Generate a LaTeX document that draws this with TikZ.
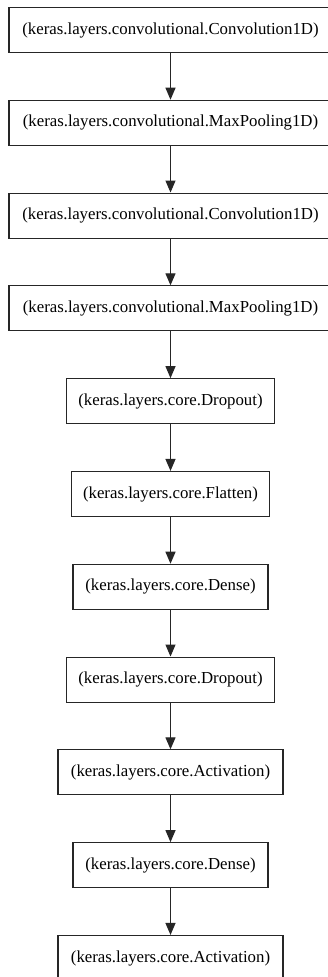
\documentclass[tikz,border=0pt]{standalone}
\usepackage{fontspec}
\setmainfont{Liberation Serif}
\usetikzlibrary{arrows.meta}
\begin{document}
\begin{tikzpicture}[x=0.75pt,y=-0.75pt,
  layer/.style={draw=black!85,line width=0.85pt,rectangle,inner sep=0pt,minimum height=33.75pt,font=\fontsize{12.6pt}{14pt}\selectfont,fill=white},
  conn/.style={draw=black!85,line width=0.85pt,-{Triangle[length=9pt,width=7.5pt]}}]
\useasboundingbox (0,0) rectangle (328,977);
\clip (0,0) rectangle (328,977);
\fill[white] (0,0) rectangle (328,977);
\node[layer,minimum width=242.25pt] (n0) at (170.5,30) {(keras.layers.convolutional.Convolution1D)};
\node[layer,minimum width=242.25pt] (n1) at (170.5,122.8) {(keras.layers.convolutional.MaxPooling1D)};
\node[layer,minimum width=242.25pt] (n2) at (170.5,215.6) {(keras.layers.convolutional.Convolution1D)};
\node[layer,minimum width=242.25pt] (n3) at (170.5,308.4) {(keras.layers.convolutional.MaxPooling1D)};
\node[layer,minimum width=156pt] (n4) at (170.5,401.2) {(keras.layers.core.Dropout)};
\node[layer,minimum width=148.5pt] (n5) at (170.5,494) {(keras.layers.core.Flatten)};
\node[layer,minimum width=146.25pt] (n6) at (170.5,586.8) {(keras.layers.core.Dense)};
\node[layer,minimum width=156pt] (n7) at (170.5,679.6) {(keras.layers.core.Dropout)};
\node[layer,minimum width=168.75pt] (n8) at (170.5,772.4) {(keras.layers.core.Activation)};
\node[layer,minimum width=146.25pt] (n9) at (170.5,865.2) {(keras.layers.core.Dense)};
\node[layer,minimum width=168.75pt] (n10) at (170.5,958) {(keras.layers.core.Activation)};
\foreach \a/\b in {n0/n1,n1/n2,n2/n3,n3/n4,n4/n5,n5/n6,n6/n7,n7/n8,n8/n9,n9/n10}
  \draw[conn] (\a) -- (\b);
\end{tikzpicture}
\end{document}
